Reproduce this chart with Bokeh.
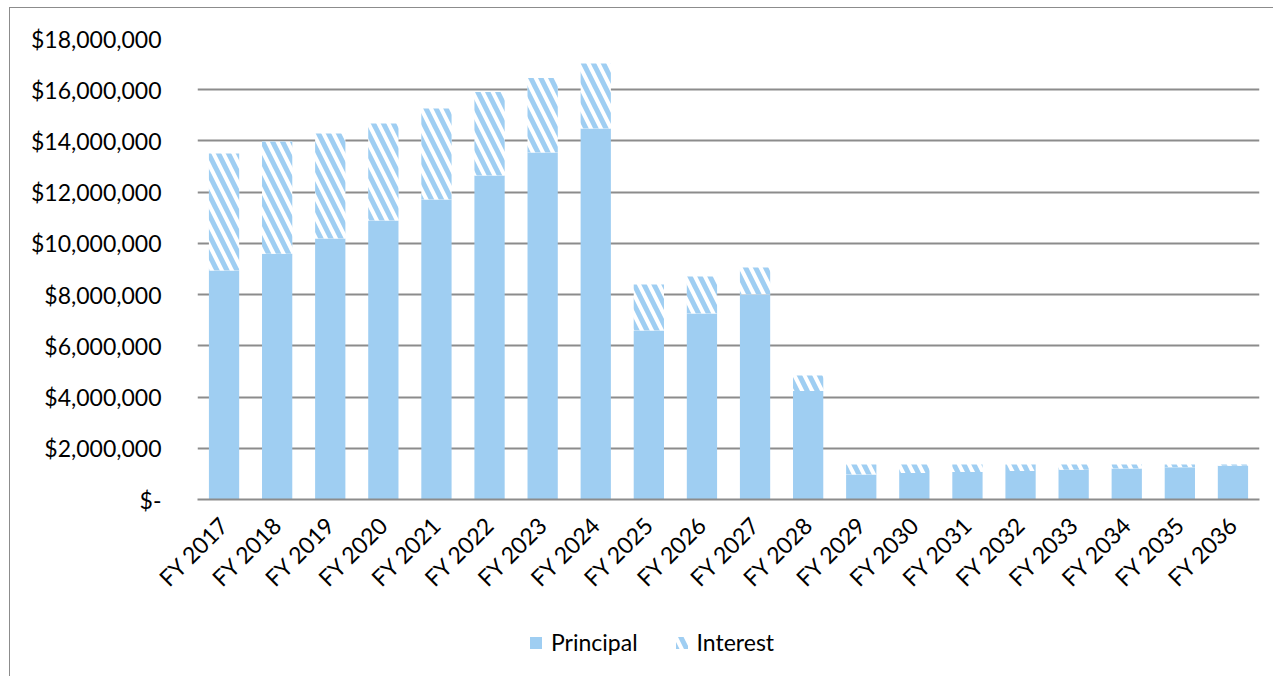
from bokeh.plotting import figure
from bokeh.layouts import column
from bokeh.models import ColumnDataSource, FixedTicker, Legend, LegendItem, Range1d, FactorRange
from bokeh.transform import stack
from bokeh.embed import file_html
from bokeh.resources import INLINE
import math

years = ["FY 2017", "FY 2018", "FY 2019", "FY 2020", "FY 2021", "FY 2022", "FY 2023",
         "FY 2024", "FY 2025", "FY 2026", "FY 2027", "FY 2028", "FY 2029", "FY 2030",
         "FY 2031", "FY 2032", "FY 2033", "FY 2034", "FY 2035", "FY 2036"]
principal = [8.94e6, 9.60e6, 10.19e6, 10.89e6, 11.71e6, 12.65e6, 13.55e6, 14.49e6,
             6.60e6, 7.26e6, 8.00e6, 4.24e6, 0.98e6, 1.03e6, 1.07e6, 1.11e6,
             1.16e6, 1.21e6, 1.26e6, 1.32e6]
interest = [4.57e6, 4.38e6, 4.10e6, 3.79e6, 3.56e6, 3.26e6, 2.91e6, 2.53e6,
            1.79e6, 1.45e6, 1.06e6, 0.60e6, 0.39e6, 0.34e6, 0.30e6, 0.26e6,
            0.21e6, 0.16e6, 0.11e6, 0.05e6]
y_ticks = [0, 2e6, 4e6, 6e6, 8e6, 10e6, 12e6, 14e6, 16e6, 18e6]
y_tick_labels = ["$-", "$2,000,000", "$4,000,000", "$6,000,000", "$8,000,000",
                 "$10,000,000", "$12,000,000", "$14,000,000", "$16,000,000", "$18,000,000"]
series_names = ["Principal", "Interest"]

BLUE = "#9fcef2"
GRID = "#8c8c8c"
FONT = "Lato"
FS = "23px"
HATCH = dict(hatch_pattern="left_diagonal_line", hatch_color=BLUE, hatch_scale=20, hatch_weight=5)

src = ColumnDataSource(dict(year=years, principal=principal, interest=interest))

p = figure(x_range=FactorRange(*years, range_padding=0), y_range=Range1d(0, 18e6),
           width=1263, height=598, output_backend="svg", toolbar_location=None,
           min_border_left=187, min_border_top=30, min_border_right=14, min_border_bottom=107)
p.outline_line_color = None

p.vbar(x="year", top=stack("principal"), bottom=0, width=0.57, source=src,
       fill_color=BLUE, line_color=None)
p.vbar(x="year", bottom=stack("principal"), top=stack("principal", "interest"),
       width=0.57, source=src, fill_color="white", line_color=None, **HATCH)

p.yaxis.ticker = FixedTicker(ticks=y_ticks)
p.yaxis.major_label_overrides = {t: l for t, l in zip(y_ticks, y_tick_labels)}
p.yaxis.axis_line_color = None
p.yaxis.major_tick_line_color = None
p.yaxis.minor_tick_line_color = None
p.yaxis.major_label_text_font = FONT
p.yaxis.major_label_text_font_size = FS
p.yaxis.major_label_text_color = "black"
p.yaxis.major_label_standoff = 30

p.xaxis.axis_line_color = GRID
p.xaxis.axis_line_width = 2
p.xaxis.major_tick_line_color = None
p.xaxis.minor_tick_line_color = None
p.xaxis.major_label_orientation = math.pi / 4
p.xaxis.major_label_text_font = FONT
p.xaxis.major_label_text_font_size = FS
p.xaxis.major_label_text_color = "black"
p.xaxis.major_label_standoff = 15

p.xgrid.grid_line_color = None
p.ygrid.grid_line_color = GRID
p.ygrid.grid_line_width = 2

# legend strip below the chart (its frame is aligned with the chart's frame)
lg = figure(width=1263, height=70, x_range=(0, 1), y_range=(0, 1), output_backend="svg",
            toolbar_location=None, x_axis_type=None, y_axis_type=None, min_border=0)
lg.outline_line_color = None
lg.grid.grid_line_color = None
l1 = lg.vbar(x=[-5], top=[-5], width=0.5, fill_color=BLUE, line_color=None)
l2 = lg.vbar(x=[-5], top=[-5], width=0.5, fill_color="white", line_color=None, **HATCH)
legend = Legend(items=[LegendItem(label=series_names[0], renderers=[l1]),
                       LegendItem(label=series_names[1], renderers=[l2])],
                orientation="horizontal", location=(331, 20),
                padding=0, margin=0, spacing=36, glyph_width=15, glyph_height=15,
                label_standoff=8, label_text_font=FONT, label_text_font_size=FS,
                label_text_color="black",
                border_line_color=None, background_fill_alpha=0)
lg.add_layout(legend, "center")

layout = column(p, lg, spacing=0,
                styles={"border-left": "1px solid #8c8c8c", "border-top": "1px solid #8c8c8c",
                        "margin-left": "9px", "margin-top": "7px"})

open("out.html", "w").write(file_html(layout, INLINE))
